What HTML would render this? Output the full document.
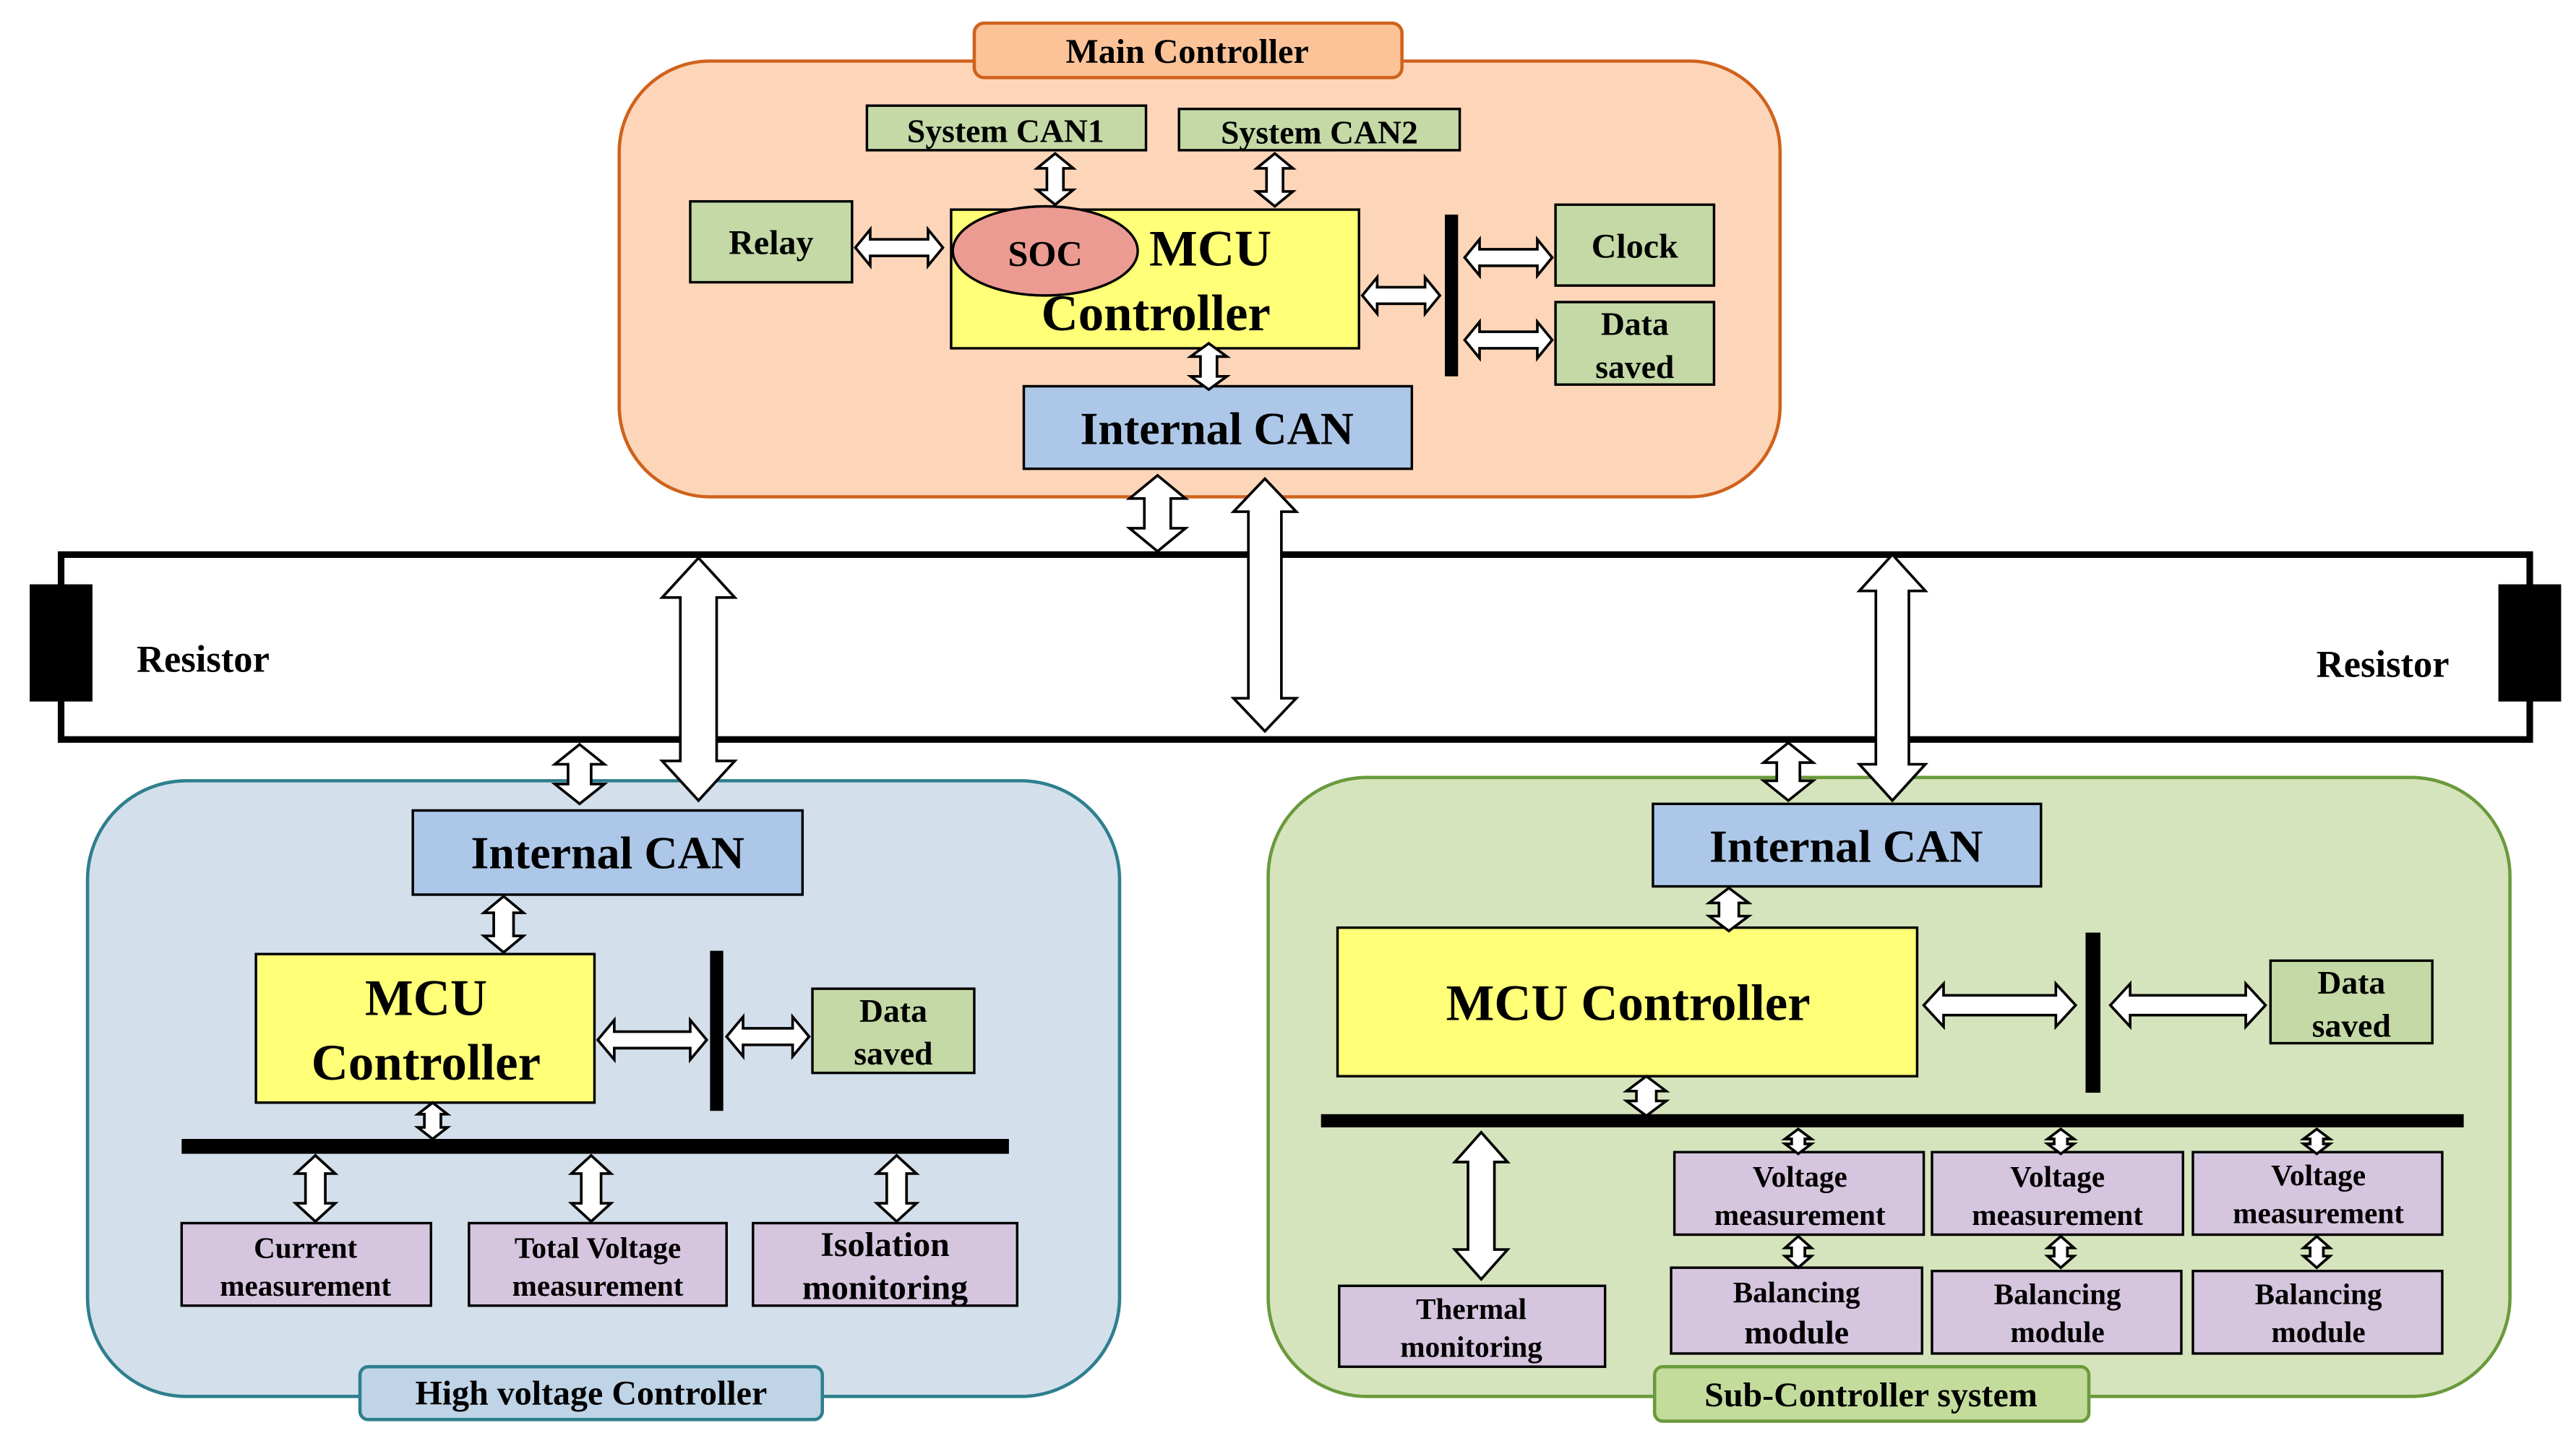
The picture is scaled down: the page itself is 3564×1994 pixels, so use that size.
<!DOCTYPE html>
<html><head><meta charset="utf-8">
<style>
html,body{margin:0;padding:0;background:#fff;}
svg{display:block;}
text{font-family:"Liberation Serif",serif;font-weight:bold;fill:#000;text-anchor:middle;}
</style></head>
<body>
<svg id="s" width="3564" height="1994" viewBox="0 0 1560 873" preserveAspectRatio="none" xmlns="http://www.w3.org/2000/svg">
<!-- Main controller -->
<rect x="375" y="37" width="703" height="264" rx="55" fill="#fdd6b9" stroke="#d0621c" stroke-width="2"/>
<rect x="590" y="14" width="259" height="33" rx="6" fill="#fcc398" stroke="#d0621c" stroke-width="2"/>
<text x="719" y="38" font-size="21">Main Controller</text>
<rect x="525" y="64" width="169" height="27" fill="#c4d9a6" stroke="#000" stroke-width="1.5"/>
<text x="609" y="86" font-size="20">System CAN1</text>
<rect x="714" y="66" width="170" height="25" fill="#c4d9a6" stroke="#000" stroke-width="1.5"/>
<text x="799" y="87" font-size="20">System CAN2</text>
<rect x="418" y="122" width="98" height="49" fill="#c4d9a6" stroke="#000" stroke-width="1.5"/>
<text x="467" y="154" font-size="21">Relay</text>
<rect x="576" y="127" width="247" height="84" fill="#ffff78" stroke="#000" stroke-width="1.5"/>
<ellipse cx="633" cy="152" rx="56" ry="27" fill="#ec9b92" stroke="#000" stroke-width="1.5"/>
<text x="633" y="161" font-size="22" font-weight="normal">SOC</text>
<text x="733" y="161" font-size="31">MCU</text>
<text x="700" y="200" font-size="31">Controller</text>
<rect x="875" y="130" width="8" height="98" fill="#000"/>
<rect x="942" y="124" width="96" height="49" fill="#c4d9a6" stroke="#000" stroke-width="1.5"/>
<text x="990" y="156" font-size="21">Clock</text>
<rect x="942" y="183" width="96" height="50" fill="#c4d9a6" stroke="#000" stroke-width="1.5"/>
<text x="990" y="203" font-size="20">Data</text>
<text x="990" y="229" font-size="20">saved</text>
<rect x="620" y="234" width="235" height="50" fill="#adc7e8" stroke="#000" stroke-width="1.5"/>
<text x="737" y="269" font-size="28">Internal CAN</text>

<!-- Bus -->
<rect x="37" y="336" width="1495" height="112" fill="#fff" stroke="#000" stroke-width="4"/>
<rect x="18" y="354" width="38" height="71" fill="#000"/>
<rect x="1513" y="354" width="38" height="71" fill="#000"/>
<text x="123" y="407" font-size="23">Resistor</text>
<text x="1443" y="410" font-size="23">Resistor</text>

<!-- HV controller -->
<rect x="53" y="473" width="625" height="373" rx="60" fill="#d3dfea" stroke="#2e7f8e" stroke-width="2"/>
<rect x="218" y="828" width="280" height="32" rx="5" fill="#bfd4e6" stroke="#2e7f8e" stroke-width="2"/>
<text x="358" y="851" font-size="21">High voltage Controller</text>
<rect x="250" y="491" width="236" height="51" fill="#adc7e8" stroke="#000" stroke-width="1.5"/>
<text x="368" y="526" font-size="28">Internal CAN</text>
<rect x="155" y="578" width="205" height="90" fill="#ffff78" stroke="#000" stroke-width="1.5"/>
<text x="258" y="615" font-size="31">MCU</text>
<text x="258" y="654" font-size="31">Controller</text>
<rect x="430" y="576" width="8" height="97" fill="#000"/>
<rect x="492" y="599" width="98" height="51" fill="#c4d9a6" stroke="#000" stroke-width="1.5"/>
<text x="541" y="619" font-size="20">Data</text>
<text x="541" y="645" font-size="20">saved</text>
<rect x="110" y="690" width="501" height="9" fill="#000"/>
<rect x="110" y="741" width="151" height="50" fill="#d6c5de" stroke="#000" stroke-width="1.5"/>
<text x="185" y="762" font-size="18">Current</text>
<text x="185" y="785" font-size="18">measurement</text>
<rect x="284" y="741" width="156" height="50" fill="#d6c5de" stroke="#000" stroke-width="1.5"/>
<text x="362" y="762" font-size="18">Total Voltage</text>
<text x="362" y="785" font-size="18">measurement</text>
<rect x="456" y="741" width="160" height="50" fill="#d6c5de" stroke="#000" stroke-width="1.5"/>
<text x="536" y="761" font-size="21">Isolation</text>
<text x="536" y="787" font-size="21">monitoring</text>

<!-- Sub controller -->
<rect x="768" y="471" width="752" height="375" rx="60" fill="#d6e4bd" stroke="#6a9a3c" stroke-width="2"/>
<rect x="1002" y="828" width="263" height="33" rx="5" fill="#c3dc9c" stroke="#6a9a3c" stroke-width="2"/>
<text x="1133" y="852" font-size="21">Sub-Controller system</text>
<rect x="1001" y="487" width="235" height="50" fill="#adc7e8" stroke="#000" stroke-width="1.5"/>
<text x="1118" y="522" font-size="28">Internal CAN</text>
<rect x="810" y="562" width="351" height="90" fill="#ffff78" stroke="#000" stroke-width="1.5"/>
<text x="986" y="618" font-size="31">MCU Controller</text>
<rect x="1263" y="565" width="9" height="97" fill="#000"/>
<rect x="1375" y="582" width="98" height="50" fill="#c4d9a6" stroke="#000" stroke-width="1.5"/>
<text x="1424" y="602" font-size="20">Data</text>
<text x="1424" y="628" font-size="20">saved</text>
<rect x="800" y="675" width="692" height="8" fill="#000"/>
<rect x="1014" y="698" width="151" height="50" fill="#d6c5de" stroke="#000" stroke-width="1.5"/>
<text x="1090" y="719" font-size="18">Voltage</text>
<text x="1090" y="742" font-size="18">measurement</text>
<rect x="1170" y="698" width="152" height="50" fill="#d6c5de" stroke="#000" stroke-width="1.5"/>
<text x="1246" y="719" font-size="18">Voltage</text>
<text x="1246" y="742" font-size="18">measurement</text>
<rect x="1328" y="698" width="151" height="50" fill="#d6c5de" stroke="#000" stroke-width="1.5"/>
<text x="1404" y="718" font-size="18">Voltage</text>
<text x="1404" y="741" font-size="18">measurement</text>
<rect x="1012" y="768" width="152" height="52" fill="#d6c5de" stroke="#000" stroke-width="1.5"/>
<text x="1088" y="789" font-size="18">Balancing</text>
<text x="1088" y="814" font-size="20">module</text>
<rect x="1170" y="770" width="151" height="50" fill="#d6c5de" stroke="#000" stroke-width="1.5"/>
<text x="1246" y="790" font-size="18">Balancing</text>
<text x="1246" y="813" font-size="18">module</text>
<rect x="1328" y="770" width="151" height="50" fill="#d6c5de" stroke="#000" stroke-width="1.5"/>
<text x="1404" y="790" font-size="18">Balancing</text>
<text x="1404" y="813" font-size="18">module</text>
<rect x="811" y="779" width="161" height="49" fill="#d6c5de" stroke="#000" stroke-width="1.5"/>
<text x="891" y="799" font-size="18">Thermal</text>
<text x="891" y="822" font-size="18">monitoring</text>
<g id="arrows" fill="#fff" stroke="#000" stroke-width="1.6" stroke-linejoin="miter"></g>
</svg>
<script>
var g=document.getElementById('arrows');
function poly(p){var e=document.createElementNS('http://www.w3.org/2000/svg','polygon');e.setAttribute('points',p.map(function(a){return a.join(',')}).join(' '));g.appendChild(e);}
function va(x,y1,y2,hw,sw,hl){poly([[x,y1],[x+hw,y1+hl],[x+sw,y1+hl],[x+sw,y2-hl],[x+hw,y2-hl],[x,y2],[x-hw,y2-hl],[x-sw,y2-hl],[x-sw,y1+hl],[x-hw,y1+hl]]);}
function ha(y,x1,x2,hw,sw,hl){poly([[x1,y],[x1+hl,y-hw],[x1+hl,y-sw],[x2-hl,y-sw],[x2-hl,y-hw],[x2,y],[x2-hl,y+hw],[x2-hl,y+sw],[x1+hl,y+sw],[x1+hl,y+hw]]);}
// main
ha(150,518,571,11,5,9);
va(639,93,124,11,5,9);
va(772,93,125,11,5,9);
va(732,208,236,11,5,8);
ha(179,825,872,11,5,9);
ha(156,887,940,11,5,9);
ha(206,887,940,11,5,9);
// bus connectors
va(701,288,334,17,8,14);
va(766,290,443,19,10,20);
va(423,338,485,22,11,24);
va(351,451,487,15,7,12);
va(1146,336,485,20,10,22);
va(1083,450,485,15,7,12);
// HV
va(305,543,577,12,6,10);
va(262,668,690,9,5,7);
va(191,700,740,12,6,11);
va(358,700,740,12,6,11);
va(543,700,740,12,6,11);
ha(630,362,428,12,5,10);
ha(628,440,490,12,5,10);
// Sub
va(1047,538,564,12,6,9);
va(997,652,676,12,6,9);
ha(609,1165,1257,13,6,12);
ha(609,1278,1372,13,6,12);
va(897,686,775,16,8,18);
[1089,1248,1403].forEach(function(x){va(x,684,699,8,4,6);va(x,749,768,8,4,7);});
</script>
</body></html>
